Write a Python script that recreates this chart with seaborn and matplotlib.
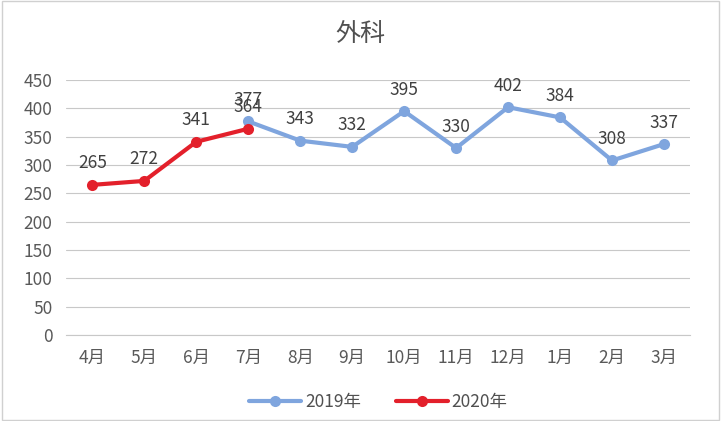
# 外科: monthly line chart, 2019 vs 2020
import matplotlib.pyplot as plt
import numpy as np
import pandas as pd
import seaborn as sns
from matplotlib.patches import Rectangle

months = ['4月', '5月', '6月', '7月', '8月', '9月', '10月', '11月', '12月', '1月', '2月', '3月']
months_2019 = ['7月', '8月', '9月', '10月', '11月', '12月', '1月', '2月', '3月']
values_2019 = [377, 343, 332, 395, 330, 402, 384, 308, 337]
months_2020 = ['4月', '5月', '6月', '7月']
values_2020 = [265, 272, 341, 364]
series_names = ['2019年', '2020年']
colors = {'2019年': '#7FA5DE', '2020年': '#E3202B'}

sns.set_style('white')
plt.rcParams['font.family'] = ['Noto Sans CJK JP', 'DejaVu Sans']

pos = {m: i for i, m in enumerate(months)}
df = pd.concat([
    pd.DataFrame({'pos': [pos[m] for m in months_2019], 'value': values_2019, 'series': '2019年'}),
    pd.DataFrame({'pos': [pos[m] for m in months_2020], 'value': values_2020, 'series': '2020年'}),
])

fig = plt.figure(figsize=(7.21, 4.21), dpi=100)
ax = fig.add_axes([0.092, 0.204, 0.865, 0.606])

sns.lineplot(data=df, x='pos', y='value', hue='series', hue_order=series_names,
             palette=colors, marker='o', markersize=8, markeredgewidth=0,
             linewidth=3, ax=ax)

# data labels above each point
for _, row in df.iterrows():
    ax.annotate(f"{row['value']}", (row['pos'], row['value']), xytext=(0, 9),
                textcoords='offset points', ha='center', va='bottom',
                fontsize=12.5, color='#404040')

ax.set_xlim(-0.5, 11.5)
ax.set_ylim(0, 450)
ax.set_yticks(np.arange(0, 451, 50))
ax.set_xticks(range(len(months)))
ax.set_xticklabels(months)
ax.tick_params(labelsize=12.5, colors='#595959', length=0, pad=10)
ax.grid(axis='y', color='#C8C8C8', linewidth=0.8)
ax.set_axisbelow(True)
for s in ['top', 'right', 'left']:
    ax.spines[s].set_visible(False)
ax.spines['bottom'].set_color('#C8C8C8')
ax.set_xlabel('')
ax.set_ylabel('')

fig.suptitle('外科', y=0.95, fontsize=18, color='#505050')

handles, labels = ax.get_legend_handles_labels()
ax.legend(handles, labels, loc='upper center', bbox_to_anchor=(0.5, -0.165),
          ncol=2, frameon=False, fontsize=12.5, handlelength=3, columnspacing=2,
          handletextpad=0.2, labelcolor='#505050')

fig.patches.append(Rectangle((0.003, 0.003), 0.994, 0.994, transform=fig.transFigure,
                             fill=False, edgecolor='#D0D0D0', linewidth=1))

fig.savefig('out.png', dpi=100)
